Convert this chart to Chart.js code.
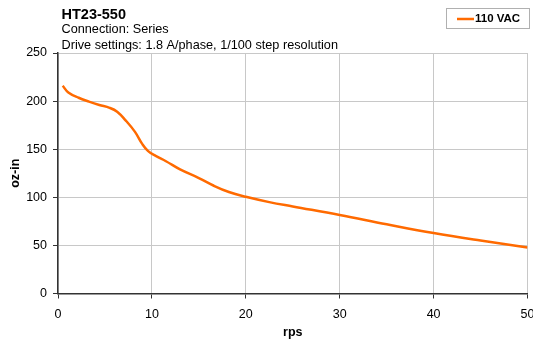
<!DOCTYPE html>
<html>
<head>
<meta charset="utf-8">
<script src="https://cdn.jsdelivr.net/npm/chart.js@4/dist/chart.umd.min.js"></script>
<style>
  html, body { margin: 0; padding: 0; background: #fff; }
  #wrap { width: 533px; height: 344px; position: relative; }
</style>
</head>
<body>
<div id="wrap"><canvas id="torque-chart" width="533" height="344"></canvas></div>
<script>
// chart data
const rps    = [0.5, 1.1, 2.2, 3.3, 4.4, 5.5, 6.3, 7.2, 8.2, 9.0, 9.6, 10.4, 11.5, 13, 15, 16.6, 18.2, 20, 22.5, 25, 30, 35, 40, 45, 50];
const torque = [216, 209, 203.5, 199.5, 196, 193, 189, 180, 168, 155, 148, 143, 137.5, 129, 120, 112, 105.5, 100.5, 95, 90.5, 81.7, 72, 62.8, 55, 47.9];
const seriesName = "110 VAC";
const titleLines = ["HT23-550", "Connection: Series", "Drive settings: 1.8 A/phase, 1/100 step resolution"];
const xTitle = "rps";
const yTitle = "oz-in";

const FONT = "'Liberation Sans', Arial, sans-serif";
const ORANGE = "#ff6a00";

// =====================
// Header + legend box
// =====================
const headerPlugin = {
  id: "header",
  afterDraw(chart) {
    const { ctx } = chart;
    ctx.save();
    ctx.fillStyle = "#000";
    ctx.textBaseline = "middle";
    ctx.textAlign = "left";
    ctx.font = `bold 14.5px ${FONT}`;
    ctx.fillText(titleLines[0], 61.5, 14.5);
    ctx.font = `12.7px ${FONT}`;
    ctx.fillText(titleLines[1], 61.5, 29.5);
    ctx.fillText(titleLines[2], 61.5, 45);

    // legend
    ctx.strokeStyle = "#b0b0b0";
    ctx.lineWidth = 1;
    ctx.strokeRect(446.5, 8.5, 83, 20);
    ctx.strokeStyle = ORANGE;
    ctx.lineWidth = 2.5;
    ctx.beginPath();
    ctx.moveTo(457, 19);
    ctx.lineTo(474, 19);
    ctx.stroke();
    ctx.font = `bold 11.5px ${FONT}`;
    ctx.fillText(seriesName, 475, 19);
    ctx.restore();
  }
};

const ctx = document.getElementById("torque-chart").getContext("2d");
new Chart(ctx, {
  type: "line",
  data: {
    datasets: [{
      label: seriesName,
      data: rps.map((x, i) => ({ x, y: torque[i] })),
      borderColor: ORANGE,
      borderWidth: 2.5,
      pointRadius: 0,
      fill: false,
      tension: 0.4
    }]
  },
  options: {
    responsive: false,
    animation: false,
    layout: { padding: { top: 53, right: 5.5, left: 0, bottom: 0 } },
    plugins: { legend: { display: false }, tooltip: { enabled: false } },
    scales: {
      x: {
        type: "linear",
        min: 0, max: 50,
        afterFit: s => { s.height = 50.5; s.paddingRight = 0; s.paddingLeft = 0; },
        ticks: { stepSize: 10, color: "#000", font: { family: FONT, size: 12.5 }, padding: 9, maxRotation: 0 },
        grid: { color: "#c8c8c8", tickColor: "#333", tickLength: 5 },
        border: { color: "#333", width: 1.5 },
        title: { display: true, text: xTitle, color: "#000", font: { family: FONT, size: 12.5, weight: "bold" }, padding: { top: 0, bottom: 4 } }
      },
      y: {
        min: 0, max: 250,
        afterFit: s => { s.width = 58; },
        ticks: { stepSize: 50, color: "#000", font: { family: FONT, size: 12.5 }, padding: 6 },
        grid: { color: "#c8c8c8", tickColor: "#333", tickLength: 5 },
        border: { color: "#333", width: 1.5 },
        title: { display: true, text: yTitle, color: "#000", font: { family: FONT, size: 12.5, weight: "bold" }, padding: { top: 8, bottom: 0 } }
      }
    }
  },
  plugins: [headerPlugin]
});
</script>
</body>
</html>
